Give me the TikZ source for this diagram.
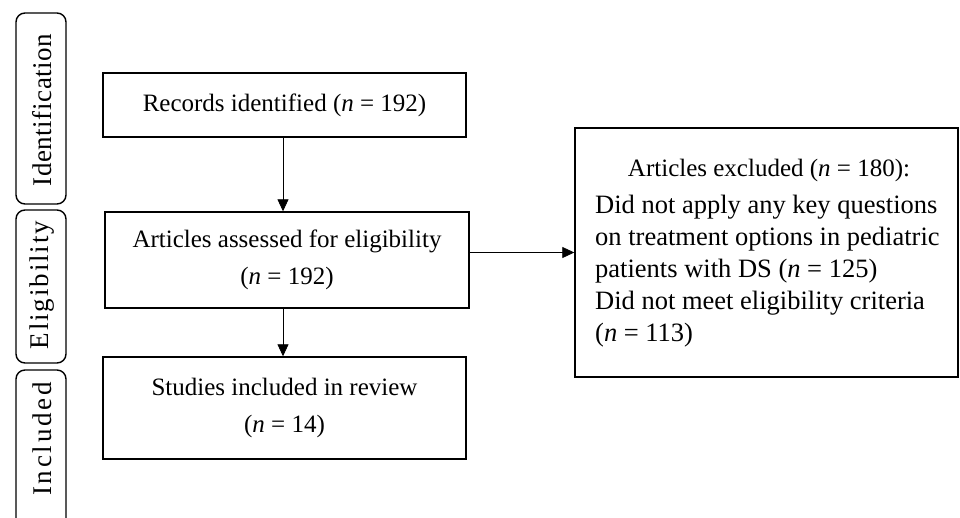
\documentclass[tikz,border=0pt]{standalone}
\usepackage{fontspec}
\setmainfont{Liberation Serif}
\usetikzlibrary{arrows.meta}
\begin{document}
\begin{tikzpicture}[x=1pt,y=-1pt,
  box/.style={draw,line width=1.4pt,rectangle,inner sep=0pt,align=center,font=\fontsize{25}{37}\selectfont},
  stage/.style={draw,line width=1.4pt,rounded corners=9pt},
  stagetext/.style={rotate=90,inner sep=0pt},
  arr/.style={line width=0.8pt,-{Triangle[width=11pt,length=12pt]}}]
\useasboundingbox (0,0) rectangle (960,517);
% stage labels
\draw[stage] (16,13) rectangle (66,204);
\draw[stage] (16,210) rectangle (66,363);
\draw[stage] (16,530) -- (16,370) -- (66,370) -- (66,530);
\node[stagetext,font=\fontsize{27}{30}\selectfont\addfontfeatures{LetterSpace=2}] (lid) at (42,110) {Identification};
\node[stagetext,font=\fontsize{27}{30}\selectfont\addfontfeatures{LetterSpace=7}] (lel) at (42,285) {Eligibility};
\node[stagetext,font=\fontsize{27}{30}\selectfont\addfontfeatures{LetterSpace=10}] (lin) at (42,439) {Included};
% boxes
\node[box,minimum width=363pt,minimum height=64pt] (b1) at (284.5,105) {Records identified (\textit{n} = 192)};
\node[box,minimum width=364pt,minimum height=96pt] (b2) at (287,260) {Articles assessed for eligibility\\(\textit{n} = 192)};
\node[box,minimum width=363pt,minimum height=102pt] (b3) at (284.5,408) {Studies included in review\\(\textit{n} = 14)};
\node[draw,line width=1.4pt,rectangle,minimum width=383pt,minimum height=249pt,inner sep=0pt] (b4) at (766.5,252.5) {};
\node[inner sep=0pt,font=\fontsize{25}{25}\selectfont] (b4h) at (769,170) {Articles excluded (\textit{n} = 180):};
\node[inner sep=0pt,align=left,anchor=north west,font=\fontsize{26.5}{32}\selectfont] (b4t) at (595,195) {%
  Did not apply any key questions\\
  on treatment options in pediatric\\
  patients with DS (\textit{n} = 125)\\
  Did not meet eligibility criteria\\
  (\textit{n} = 113)};
% arrows
\draw[arr] (b1.south -| 283,0) -- (b2.north -| 283,0);
\draw[arr] (b2.south -| 283,0) -- (b3.north -| 283,0);
\draw[arr] (b2.east |- b4.west) -- (b4.west);
\end{tikzpicture}
\end{document}
